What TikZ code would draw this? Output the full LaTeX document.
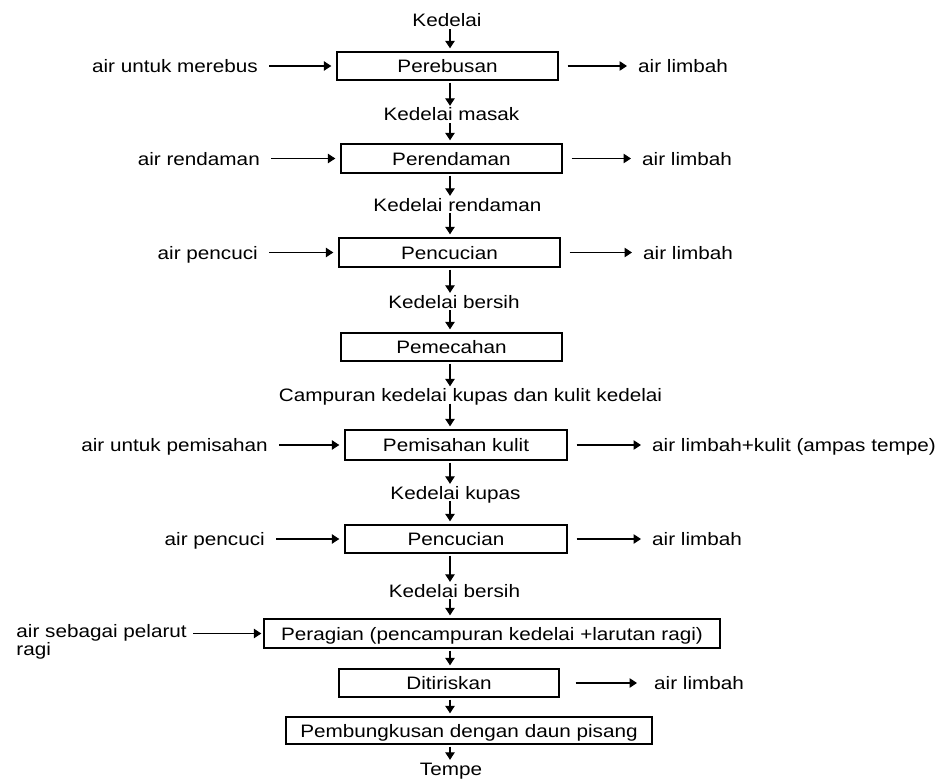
\documentclass[tikz,border=0pt]{standalone}
\usepackage{fontspec}
\setmainfont[FakeStretch=1.15]{Liberation Sans}
\usetikzlibrary{arrows.meta}

\begin{document}
\begin{tikzpicture}[x=1pt,y=-1pt,
  font=\fontsize{18}{16}\selectfont,
  every node/.style={inner sep=0pt, text height=13pt, text depth=0pt},
  proc/.style={draw, line width=1.4pt},
  tip/.style={-{Triangle[length=7.5pt,width=9.5pt]}, line width=1.1pt},
  flow/.style={tip, shorten <=2pt, shorten >=3pt},
  flowt/.style={tip, shorten <=2pt, shorten >=2pt},
  feed/.style={tip, shorten <=11pt, shorten >=5pt},
  waste/.style={tip, shorten <=9pt, shorten >=11pt}
]
% page
\fill[white] (0,0) rectangle (941,778);
\useasboundingbox (0,0) rectangle (941,778);
\coordinate (ax) at (450,0);

% main line of process steps and intermediate products
\node (t0) at (447,20.5) {Kedelai};
\node[proc, minimum width=221pt, minimum height=28pt] (p1) at (447.5,66) {Perebusan};
\node (t1) at (451.5,114.5) {Kedelai masak};
\node[proc, minimum width=221pt, minimum height=29pt] (p2) at (451.5,158.5) {Perendaman};
\node (t2) at (457.5,204.5) {Kedelai rendaman};
\node[proc, minimum width=221pt, minimum height=29pt] (p3) at (449.5,252.5) {Pencucian};
\node (t3) at (454,301.5) {Kedelai bersih};
\node[proc, minimum width=221pt, minimum height=28pt] (p4) at (451.5,347) {Pemecahan};
\node (t4) at (470.5,395) {Campuran kedelai kupas dan kulit kedelai};
\node[proc, minimum width=222pt, minimum height=30pt] (p5) at (456,445) {Pemisahan kulit};
\node (t5) at (455.5,492.5) {Kedelai kupas};
\node[proc, minimum width=222pt, minimum height=28pt] (p6) at (456,539) {Pencucian};
\node (t6) at (454.5,590.5) {Kedelai bersih};
\node[proc, minimum width=456pt, minimum height=29pt] (p7) at (492,633.5) {Peragian (pencampuran kedelai +larutan ragi)};
\node[proc, minimum width=220pt, minimum height=28pt] (p8) at (449,683) {Ditiriskan};
\node[proc, minimum width=366pt, minimum height=27pt] (p9) at (469,730.5) {Pembungkusan dengan daun pisang};
\node (t9) at (451,768.5) {Tempe};

% inputs
\node[anchor=east] (in1) at (258,66) {air untuk merebus};
\node[anchor=east] (in2) at (260,158.5) {air rendaman};
\node[anchor=east] (in3) at (258,252.5) {air pencuci};
\node[anchor=east] (in5) at (268,445) {air untuk pemisahan};
\node[anchor=east] (in6) at (265,539) {air pencuci};
\node[anchor=north east, align=left] (in7) at (187,642) {air sebagai pelarut\\ragi};

% outputs
\node[anchor=west] (out1) at (638,66) {air limbah};
\node[anchor=west] (out2) at (642,158.5) {air limbah};
\node[anchor=west] (out3) at (643,252.5) {air limbah};
\node[anchor=west] (out5) at (652,445) {air limbah+kulit (ampas tempe)};
\node[anchor=west] (out6) at (652,539) {air limbah};
\node[anchor=west] (out8) at (654,683) {air limbah};

% vertical flow
\draw[flow]  (t0.south -| ax) -- (p1.north -| ax);
\draw[flowt] (p1.south -| ax) -- (t1.north -| ax);
\draw[flow]  (t1.south -| ax) -- (p2.north -| ax);
\draw[flowt] (p2.south -| ax) -- (t2.north -| ax);
\draw[flow]  (t2.south -| ax) -- (p3.north -| ax);
\draw[flowt] (p3.south -| ax) -- (t3.north -| ax);
\draw[flow]  (t3.south -| ax) -- (p4.north -| ax);
\draw[flowt] (p4.south -| ax) -- (t4.north -| ax);
\draw[flow]  (t4.south -| ax) -- (p5.north -| ax);
\draw[flowt] (p5.south -| ax) -- (t5.north -| ax);
\draw[flow]  (t5.south -| ax) -- (p6.north -| ax);
\draw[flowt] (p6.south -| ax) -- (t6.north -| ax);
\draw[flow]  (t6.south -| ax) -- (p7.north -| ax);
\draw[flow]  (p7.south -| ax) -- (p8.north -| ax);
\draw[flow]  (p8.south -| ax) -- (p9.north -| ax);
\draw[flowt] (p9.south -| ax) -- (t9.north -| ax);

% feeds into the steps
\draw[feed] (in1) -- (p1);
\draw[feed] (in2) -- (p2);
\draw[feed] (in3) -- (p3);
\draw[feed] (in5) -- (p5);
\draw[feed] (in6) -- (p6);
\draw[tip, shorten <=6pt, shorten >=2pt] (in7.east |- p7.west) -- (p7.west);

% waste streams
\draw[waste] (p1) -- (out1);
\draw[waste] (p2) -- (out2);
\draw[waste] (p3) -- (out3);
\draw[waste] (p5) -- (out5);
\draw[waste] (p6) -- (out6);
\draw[tip, shorten <=16pt, shorten >=17pt] (p8) -- (out8);
\end{tikzpicture}
\end{document}
